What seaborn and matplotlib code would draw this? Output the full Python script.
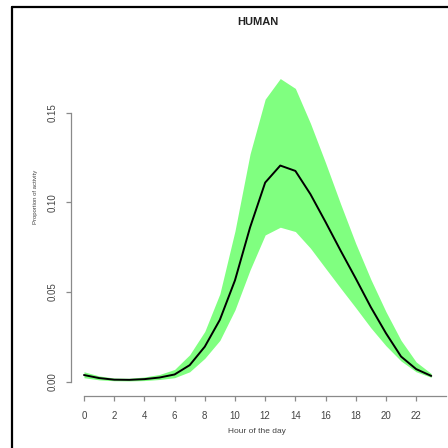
import numpy as np
import pandas as pd
import matplotlib
matplotlib.use("Agg")
import matplotlib.pyplot as plt
from matplotlib.lines import Line2D
import seaborn as sns

hours = list(range(24))
mean_activity = [0.0037, 0.0020, 0.0011, 0.0010, 0.0014, 0.0023, 0.0040, 0.0092,
                 0.0195, 0.0345, 0.0565, 0.0860, 0.1110, 0.1205, 0.1175, 0.1045,
                 0.0890, 0.0730, 0.0575, 0.0415, 0.0270, 0.0140, 0.0070, 0.0032]
upper_band = [0.0055, 0.0032, 0.0020, 0.0019, 0.0026, 0.0040, 0.0068, 0.0150,
              0.0280, 0.0490, 0.0840, 0.1270, 0.1575, 0.1690, 0.1635, 0.1440,
              0.1220, 0.0990, 0.0770, 0.0570, 0.0390, 0.0230, 0.0110, 0.0045]
lower_band = [0.0022, 0.0010, 0.0005, 0.0004, 0.0006, 0.0012, 0.0022, 0.0055,
              0.0130, 0.0230, 0.0400, 0.0623, 0.0818, 0.0861, 0.0837, 0.0744,
              0.0632, 0.0521, 0.0412, 0.0300, 0.0200, 0.0115, 0.0055, 0.0024]
x_ticks = [0, 2, 4, 6, 8, 10, 12, 14, 16, 18, 20, 22]
y_ticks = [0.00, 0.05, 0.10, 0.15]
y_tick_labels = ["0.00", "0.05", "0.10", "0.15"]
title = "HUMAN"
x_label = "Hour of the day"
y_label = "Proportion of activity"

df = pd.DataFrame({"hour": hours, "mean": mean_activity,
                   "lo": lower_band, "hi": upper_band})

sns.set_style("white")
plt.rcParams['font.family'] = ['Liberation Sans', 'DejaVu Sans']

W = H = 448
fig = plt.figure(figsize=(4.48, 4.48), dpi=100)
fig.patch.set_facecolor("white")

# axes rect in pixels
ax_l, ax_r, ax_t, ax_b = 71, 445, 66, 396
ax = fig.add_axes([ax_l / W, 1 - ax_b / H, (ax_r - ax_l) / W, (ax_b - ax_t) / H])
ax.set_facecolor("white")

green = "#80FF80"
ax.fill_between(df["hour"], df["lo"], df["hi"], color=green, linewidth=0, zorder=1)
sns.lineplot(data=df, x="hour", y="mean", ax=ax, color="black", linewidth=1.4, zorder=3)

ax.set_xlim(-0.86, 23.91)
ax.set_ylim(-0.008, 0.176)

for s in ["top", "right"]:
    ax.spines[s].set_visible(False)
axis_col = "#8a8a8a"
ax.spines["left"].set_bounds(0, 0.15)
ax.spines["bottom"].set_bounds(0, 24)
for s in ["left", "bottom"]:
    ax.spines[s].set_color(axis_col)
    ax.spines[s].set_linewidth(0.9)

ax.set_xticks(x_ticks)
ax.set_xticklabels([str(t) for t in x_ticks])
ax.set_yticks(y_ticks)
ax.set_yticklabels(y_tick_labels, rotation=90, va="center")
ax.tick_params(axis="both", which="major", bottom=True, left=True, direction="out",
               length=3.8, width=0.9, color=axis_col, labelsize=7, labelcolor="#444444")
ax.tick_params(axis="x", pad=7.0)
ax.tick_params(axis="y", pad=6.0)
ax.set_xlabel("")
ax.set_ylabel("")

fig.text(257.5 / W, 1 - 21.7 / H, title, fontsize=8, fontweight="bold",
         ha="center", va="center", color="#222222")
fig.text(257 / W, 1 - 431.3 / H, x_label, fontsize=6, ha="center", va="center",
         color="#444444")
fig.text(35 / W, 1 - 197 / H, y_label, fontsize=4.3, rotation=90, ha="center",
         va="center", color="#444444")

# black frame (top and left edges visible)
fig.add_artist(Line2D([12 / W, 12 / W], [0, 1 - 7 / H], transform=fig.transFigure,
                      color="black", linewidth=1.6))
fig.add_artist(Line2D([12 / W, 1], [1 - 7 / H, 1 - 7 / H], transform=fig.transFigure,
                      color="black", linewidth=1.6))

fig.savefig("out.png", dpi=100)
